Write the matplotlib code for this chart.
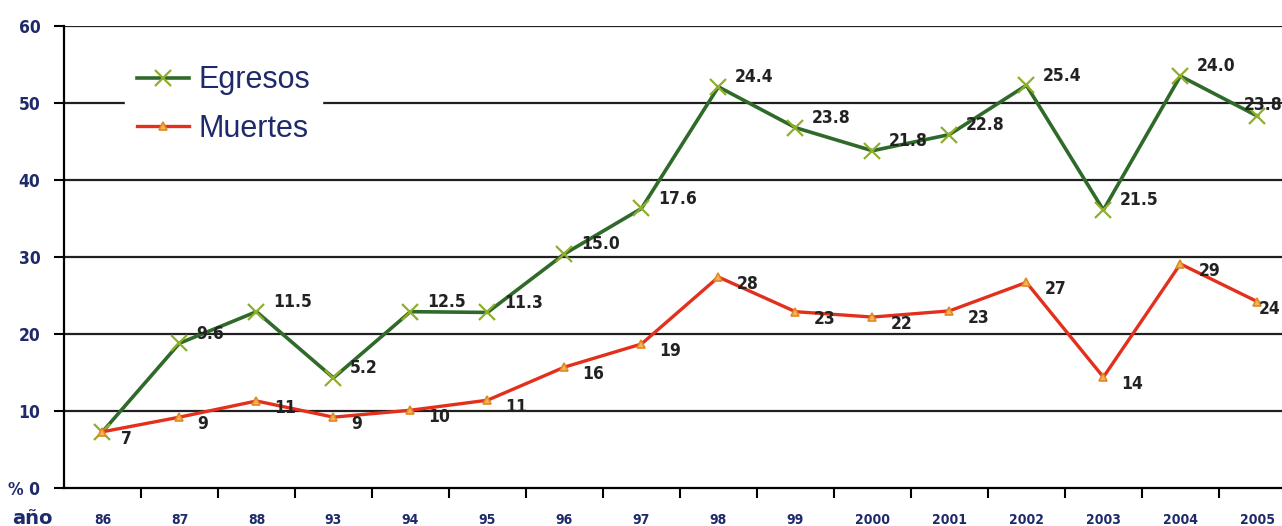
import matplotlib.pyplot as plt
import numpy as np

years = ['86', '87', '88', '93', '94', '95', '96', '97', '98', '99',
         '2000', '2001', '2002', '2003', '2004', '2005']
egresos = [7.3, 18.8, 22.9, 14.3, 22.9, 22.8, 30.4, 36.3, 52.1, 46.8,
           43.8, 45.9, 52.3, 36.1, 53.5, 48.3]
egresos_lbl = ['', '9.6', '11.5', '5.2', '12.5', '11.3', '15.0', '17.6', '24.4', '23.8',
               '21.8', '22.8', '25.4', '21.5', '24.0', '23.8']
muertes = [7.3, 9.2, 11.3, 9.2, 10.1, 11.4, 15.7, 18.7, 27.4, 22.9,
           22.2, 23.0, 26.7, 14.4, 29.1, 24.2]
muertes_lbl = ['7', '9', '11', '9', '10', '11', '16', '19', '28', '23',
               '22', '23', '27', '14', '29', '24']
y_ticks = [0, 10, 20, 30, 40, 50, 60]
y_tick_lbl = ['% 0', '10', '20', '30', '40', '50', '60']

navy = '#1f2a6b'

fig = plt.figure(figsize=(12.82, 5.26), dpi=100)
ax = fig.add_axes([64 / 1282, 38 / 526, 1218 / 1282, 462 / 526])
x = np.arange(len(years))

for y in y_ticks[1:]:
    ax.axhline(y, color='#202020', lw=1.6, zorder=1)

ax.plot(x, egresos, color='#2f6a2a', lw=2.6, marker='x', ms=11, mew=1.6,
        mec='#8fae2a', label='Egresos', zorder=3)
ax.plot(x, muertes, color='#e2301c', lw=2.4, marker='^', ms=6, mew=1.2,
        mec='#e08a20', mfc='#f5b060', label='Muertes', zorder=3)

# last labels pulled in a little so they stay inside the picture
last = len(years) - 1
for i in range(len(years)):
    if egresos_lbl[i]:
        off = (-10, 8) if i == last else (12, 7)
        ax.annotate(egresos_lbl[i], (x[i], egresos[i]), xytext=off,
                    textcoords='offset points', ha='left', va='center',
                    fontsize=12.5, fontweight='bold', fontstretch='condensed',
                    color='#222222', annotation_clip=False)
    off = (1, -5) if i == last else (13, -5)
    ax.annotate(muertes_lbl[i], (x[i], muertes[i]), xytext=off,
                textcoords='offset points', ha='left', va='center',
                fontsize=12.5, fontweight='bold', fontstretch='condensed',
                color='#222222', annotation_clip=False)

ax.set_xlim(-0.5, 15.32)
ax.set_ylim(0, 60)
ax.set_xticks(x)
ax.set_xticklabels(years)
ax.set_xticks(x[:-1] + 0.5, minor=True)
ax.set_yticks(y_ticks)
ax.set_yticklabels(y_tick_lbl)
ax.tick_params(axis='x', which='major', length=0, pad=18, labelsize=10, labelcolor=navy)
ax.tick_params(axis='x', which='minor', length=7, width=1.5, direction='out')
ax.tick_params(axis='y', length=7, width=1.5, direction='out', labelsize=12.5,
               labelcolor=navy, pad=10)
for t in ax.get_xticklabels() + ax.get_yticklabels():
    t.set_fontweight('bold')
    t.set_fontstretch('condensed')

for s in ['top', 'right']:
    ax.spines[s].set_visible(False)
ax.spines['left'].set_linewidth(1.6)
ax.spines['bottom'].set_linewidth(1.6)

fig.text(12 / 1282, 1 - 519 / 526, 'año', fontsize=14, fontweight='bold',
         color=navy, va='center', ha='left')

leg = ax.legend(loc='center left', bbox_to_anchor=(0.05, 0.83), borderaxespad=0,
                prop={'family': 'Liberation Sans', 'size': 22},
                frameon=True, facecolor='white', edgecolor='white', framealpha=1,
                handlelength=1.7, handletextpad=0.3, labelcolor=navy,
                borderpad=0.4, labelspacing=0.6, fancybox=False)
leg.set_zorder(2)

fig.savefig('out.png', dpi=100)
